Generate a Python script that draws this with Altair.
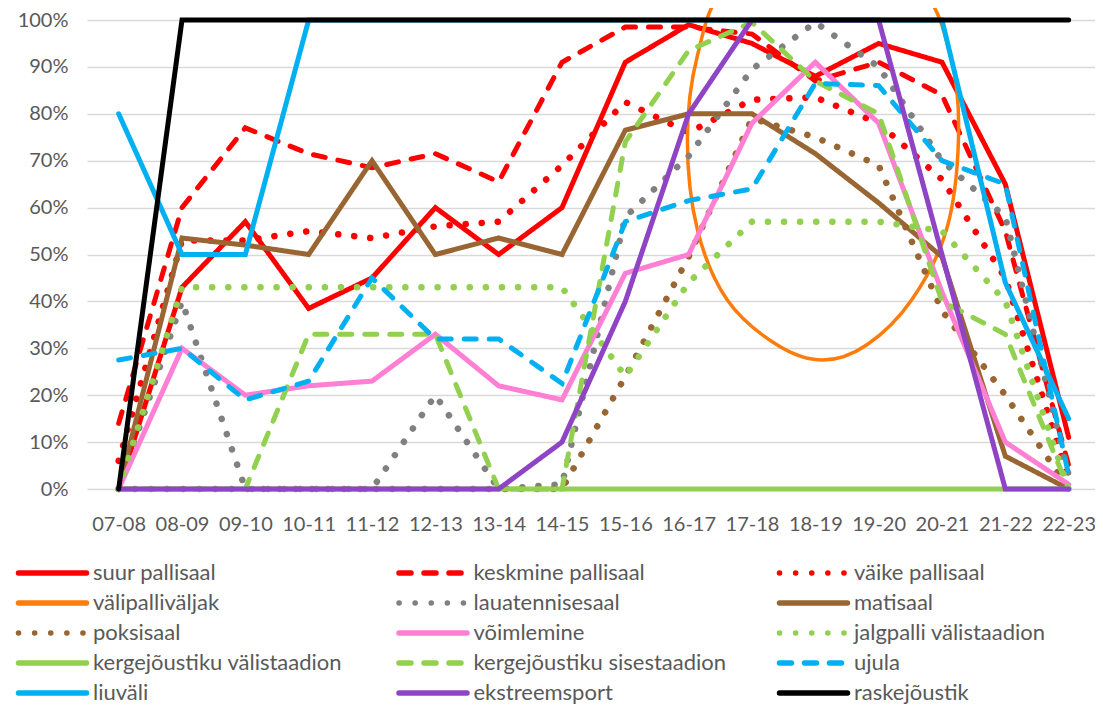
import json
import altair as alt
import pandas as pd

categories = ["07-08", "08-09", "09-10", "10-11", "11-12", "12-13", "13-14", "14-15",
              "15-16", "16-17", "17-18", "18-19", "19-20", "20-21", "21-22", "22-23"]

series = ["suur pallisaal", "keskmine pallisaal", "väike pallisaal",
          "välipalliväljak", "lauatennisesaal", "matisaal",
          "poksisaal", "võimlemine", "jalgpalli välistaadion",
          "kergejõustiku välistaadion", "kergejõustiku sisestaadion", "ujula",
          "liuväli", "ekstreemsport", "raskejõustik"]

# values in percent, one per category
suur_pallisaal = [0, 43, 57, 38.5, 45, 60, 50, 60, 91, 99, 95, 88, 95, 91, 65, 11]
keskmine_pallisaal = [14, 60, 77, 71.5, 68.5, 71.5, 65.5, 91, 98.5, 98.5, 97, 87, 91, 84, 55, 5]
vaike_pallisaal = [6, 53, 53, 55, 53.5, 56, 57, 69, 82.5, 76, 83, 83.5, 78, 66, 45, 2]
lauatennisesaal = [0, 40, 0, 0, 0, 20, 0, 1, 58, 71, 89.5, 99.5, 90, 70, 58, 3]
matisaal = [0, 53.5, 52, 50, 70, 50, 53.5, 50, 76.5, 80, 80, 71.5, 61, 49.5, 7, 0]
poksisaal = [0, 0, 0, 0, 0, 0, 0, 0, 24, 49.5, 79, 75, 69, 38, 20, 0]
voimlemine = [0, 30, 20, 22, 23, 33, 22, 19, 46, 50, 78, 91, 78, 42, 10, 1]
jalgpalli_valistaadion = [0, 43, 43, 43, 43, 43, 43, 43, 24, 44, 57, 57, 57, 55, 40, 0]
kergejoustiku_valistaadion = [0, 0, 0, 0, 0, 0, 0, 0, 0, 0, 0, 0, 0, 0, 0, 0]
kergejoustiku_sisestaadion = [0, 0, 0, 33, 33, 33, 0, 0, 74, 93.5, 99.5, 87, 80, 40, 33, 0]
ujula = [27.5, 30, 19, 23, 45, 32, 32, 22.5, 57, 61.5, 64, 86.5, 86, 70, 65, 3]
liuvali = [80, 50, 50, 100, 100, 100, 100, 100, 100, 100, 100, 100, 100, 100, 44, 15]
ekstreemsport = [0, 0, 0, 0, 0, 0, 0, 10, 40, 80, 100, 100, 100, 50, 0, 0]
raskejoustik = [0, 100, 100, 100, 100, 100, 100, 100, 100, 100, 100, 100, 100, 100, 100, 100]

# välipalliväljak: closed loop (x in category units, y in percent)
valipalli_x = [11.12, 12.63, 13.15, 13.26, 13.07, 12.52, 11.81, 11.12, 10.40, 9.61, 9.14, 8.98, 9.14, 9.61]
valipalli_y = [121.3, 107.5, 91.5, 74.4, 55.2, 40.3, 30.7, 27.5, 30.7, 40.3, 55.2, 74.4, 92.5, 107.5]

values = {
    "suur pallisaal": suur_pallisaal,
    "keskmine pallisaal": keskmine_pallisaal,
    "väike pallisaal": vaike_pallisaal,
    "lauatennisesaal": lauatennisesaal,
    "matisaal": matisaal,
    "poksisaal": poksisaal,
    "võimlemine": voimlemine,
    "jalgpalli välistaadion": jalgpalli_valistaadion,
    "kergejõustiku välistaadion": kergejoustiku_valistaadion,
    "kergejõustiku sisestaadion": kergejoustiku_sisestaadion,
    "ujula": ujula,
    "liuväli": liuvali,
    "ekstreemsport": ekstreemsport,
    "raskejõustik": raskejoustik,
}

# styles
SOLID = [1, 0]
DASH = [12, 13]
DOT = [0.1, 16]
colors = ["#FF0000", "#FF0000", "#FF0000", "#FF7C0A", "#808080", "#996633",
          "#996633", "#FF7FD4", "#92D050", "#92D050", "#92D050", "#00B0F0",
          "#00B0F0", "#8E44C4", "#000000"]
dashes = [SOLID, DASH, DOT, SOLID, DOT, SOLID, DOT, SOLID, DOT, SOLID, DASH, DASH,
          SOLID, SOLID, SOLID]
widths = [5, 5, 6.5, 3.5, 6.5, 5, 6.5, 5, 6.5, 5, 5, 5, 5, 5, 5]

FONT = "Lato"
TXT = "#595959"

xscale = alt.Scale(domain=[-0.5, 15.416], nice=False, zero=False)
yscale = alt.Scale(domain=[0, 1], nice=False)
xaxis = alt.Axis(values=list(range(len(categories))),
                 labelExpr=f"{json.dumps(categories)}[datum.value]",
                 grid=False, ticks=False, domain=False, title=None,
                 labelFont=FONT, labelFontSize=20, labelColor=TXT,
                 labelPadding=25, labelFlush=False, labelOverlap=False)
yaxis = alt.Axis(values=[i / 10 for i in range(11)], format=".0%",
                 grid=True, gridColor="#D9D9D9", gridWidth=1.3,
                 ticks=False, domain=False, title=None,
                 labelFont=FONT, labelFontSize=20, labelColor=TXT, labelPadding=19)

plot_layers = []
for i, name in enumerate(series):
    if name == "välipalliväljak":
        df = pd.DataFrame({"x": valipalli_x,
                           "y": [v / 100 for v in valipalli_y],
                           "o": list(range(len(valipalli_x)))})
        layer = alt.Chart(df).mark_line(
            interpolate="cardinal-closed", color=colors[i], strokeWidth=widths[i],
            strokeCap="round").encode(
            x=alt.X("x:Q", scale=xscale, axis=xaxis),
            y=alt.Y("y:Q", scale=yscale, axis=yaxis),
            order="o:Q")
    else:
        df = pd.DataFrame({"x": list(range(len(categories))),
                           "y": [v / 100 for v in values[name]]})
        layer = alt.Chart(df).mark_line(
            color=colors[i], strokeWidth=widths[i], strokeDash=dashes[i],
            strokeCap="round").encode(
            x=alt.X("x:Q", scale=xscale, axis=xaxis),
            y=alt.Y("y:Q", scale=yscale, axis=yaxis))
    plot_layers.append(layer)

plot = alt.layer(*plot_layers)

leg = pd.DataFrame({"series": series,
                    "col": [i % 3 for i in range(len(series))],
                    "row": [i // 3 for i in range(len(series))]})
lx = alt.Scale(domain=[0, 3], range=[-68.5, 1073], nice=False, zero=False)
ly = alt.Scale(domain=[0, 4], range=[553, 673], nice=False, zero=False)
legend_base = alt.Chart(leg).transform_calculate(
    x2="datum.col + 0.1787", tx="datum.col + 0.1958")
rules = legend_base.mark_rule(strokeWidth=5.5, strokeCap="round").encode(
    x=alt.X("col:Q", scale=lx, axis=None),
    x2="x2:Q",
    y=alt.Y("row:Q", scale=ly, axis=None),
    color=alt.Color("series:N", scale=alt.Scale(domain=series, range=colors), legend=None),
    strokeDash=alt.StrokeDash("series:N", scale=alt.Scale(domain=series, range=dashes), legend=None),
)
texts = legend_base.mark_text(align="left", baseline="middle", font=FONT,
                              fontSize=22, color=TXT).encode(
    x=alt.X("tx:Q", scale=lx, axis=None),
    y=alt.Y("row:Q", scale=ly, axis=None),
    text="series:N",
)
legend_layer = alt.layer(rules, texts)

chart = alt.layer(plot, legend_layer).resolve_scale(
    x="independent", y="independent"
).properties(
    width=1008, height=469,
    padding={"left": 79, "top": 12, "right": 0, "bottom": 215},
    autosize=alt.AutoSizeParams(type="none"),
    background="white",
).configure_view(stroke=None)

chart.save("out.html", embed_options={"renderer": "svg", "actions": False})
